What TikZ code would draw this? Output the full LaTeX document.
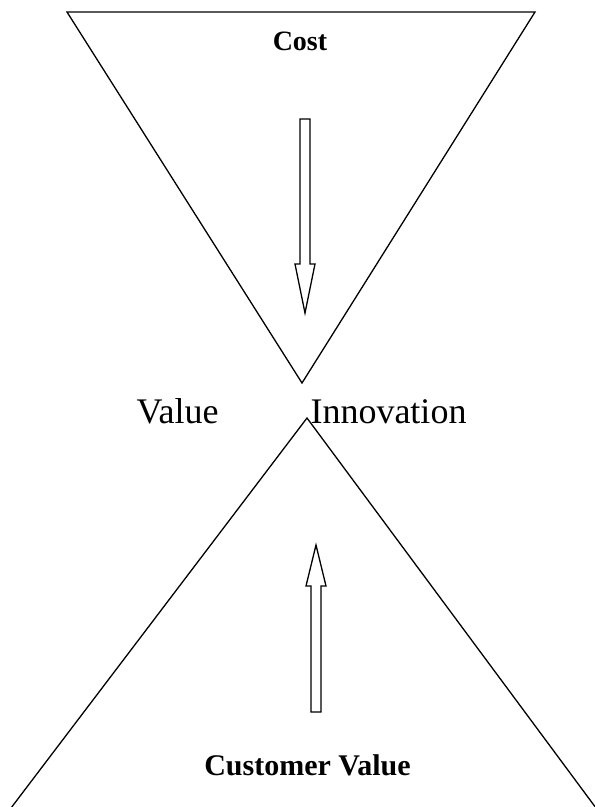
\documentclass[tikz,border=0pt]{standalone}
\usepackage{fontspec}
\setmainfont{Liberation Serif}
\begin{document}
\begin{tikzpicture}[x=1pt,y=-1pt,
  edge/.style={draw=black,line width=1.3pt,line join=miter},
  blockarrow/.style={draw=black,line width=1.3pt,fill=white,line join=miter},
  title/.style={font=\bfseries,inner sep=0pt,anchor=base},
  big/.style={font=\fontsize{36}{40}\selectfont,inner sep=0pt,anchor=base}]
\useasboundingbox (0,0) rectangle (595,807);
% top triangle
\coordinate (tl) at (67,12);
\coordinate (tr) at (535,12);
\coordinate (ta) at (302,383);
\draw[edge] (tl) -- (tr) -- (ta) -- cycle;
% bottom triangle sides
\coordinate (ba) at (307,418);
\coordinate (bl) at (11,808);
\coordinate (br) at (596,808);
\draw[edge] (bl) -- (ba) -- (br);
% labels
\node[title,font=\fontsize{28}{30}\selectfont\bfseries] (cost) at (300,50) {Cost};
\node[title,font=\fontsize{30}{32}\selectfont\bfseries] (cv) at (307.5,775) {Customer Value};
\node[big] (value) at (177.5,423) {Value};
\node[big] (innov) at (388.5,423) {Innovation};
% down arrow
\draw[blockarrow] (300,119) -- (310,119) -- (310,264) -- (315,264) -- (305,313) -- (295,264) -- (300,264) -- cycle;
% up arrow
\draw[blockarrow] (311,712) -- (321,712) -- (321,586) -- (326,586) -- (316,545) -- (306,586) -- (311,586) -- cycle;
\end{tikzpicture}
\end{document}
